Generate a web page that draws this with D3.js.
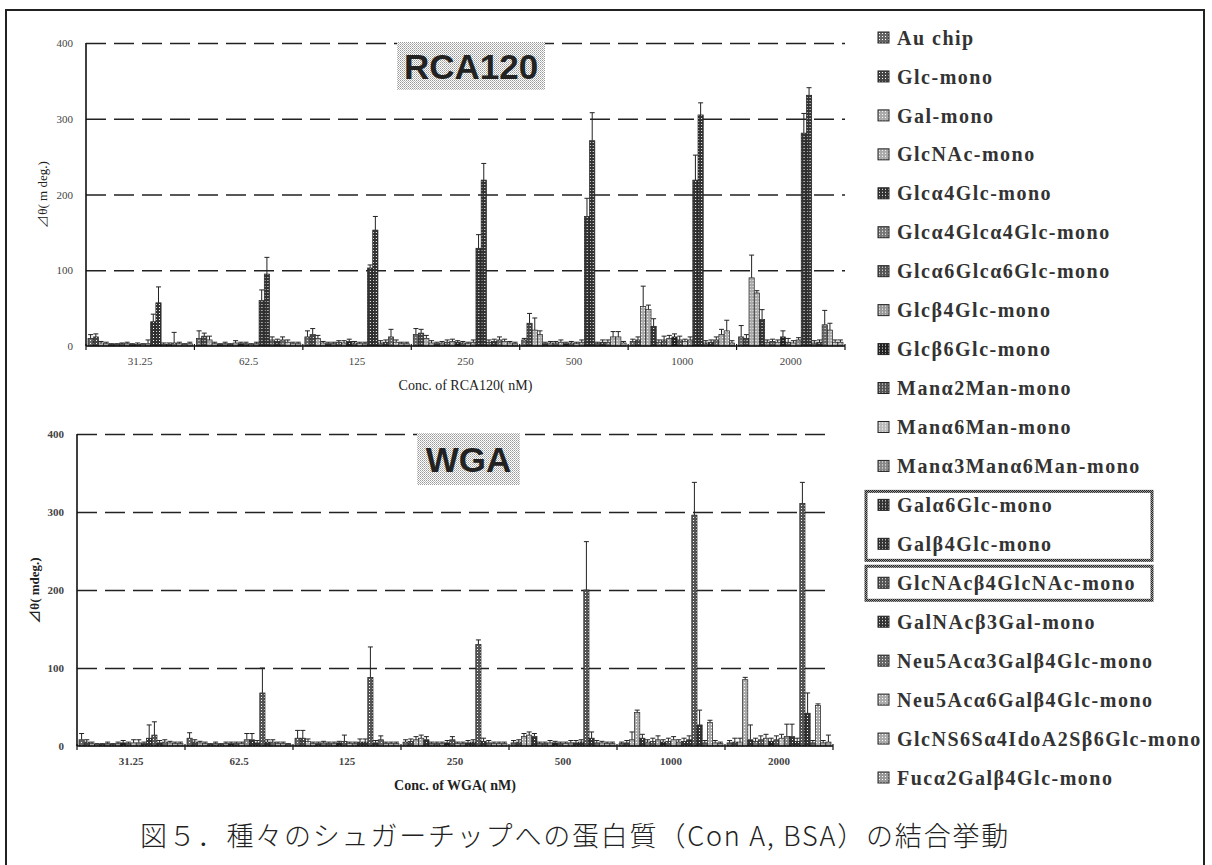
<!DOCTYPE html>
<html lang="ja">
<head>
<meta charset="utf-8">
<title>図5 RCA120 / WGA</title>
<script src="https://cdnjs.cloudflare.com/ajax/libs/d3/7.8.5/d3.min.js"></script>
<style>
body { margin: 0; background: #fff; }
.tick-lab { font-family: "Liberation Serif", "DejaVu Serif", serif; font-size: 11px; fill: #444; }
.axis-title { font-family: "Liberation Serif", "DejaVu Serif", serif; font-size: 14px; fill: #222; }
.legend text { font-family: "Liberation Serif", "DejaVu Serif", serif; font-size: 20px; font-weight: bold; fill: #333; letter-spacing: 1.5px; }
.panel-title { font-family: "Liberation Sans", Arial, sans-serif; font-weight: bold; font-size: 35px; fill: #222; }
.caption { font-family: "Noto Sans CJK JP", sans-serif; font-size: 27px; font-weight: 300; fill: #222; letter-spacing: 1.8px; }
</style>
</head>
<body>
<svg id="fig" width="1212" height="865"></svg>
<script>
// sugar chips (one bar per chip in every concentration group)
var sugars = ["Au chip", "Glc-mono", "Gal-mono", "GlcNAc-mono", "Glcα4Glc-mono",
  "Glcα4Glcα4Glc-mono", "Glcα6Glcα6Glc-mono", "Glcβ4Glc-mono", "Glcβ6Glc-mono",
  "Manα2Man-mono", "Manα6Man-mono", "Manα3Manα6Man-mono", "Galα6Glc-mono",
  "Galβ4Glc-mono", "GlcNAcβ4GlcNAc-mono", "GalNAcβ3Gal-mono", "Neu5Acα3Galβ4Glc-mono",
  "Neu5Acα6Galβ4Glc-mono", "GlcNS6Sα4IdoA2Sβ6Glc-mono", "Fucα2Galβ4Glc-mono"]

var concRCA = ["31.25", "62.5", "125", "250", "500", "1000", "2000"]
var concWGA = ["31.25", "62.5", "125", "250", "500", "1000", "2000"]
var yTicks = [0, 100, 200, 300, 400]

// RCA120: mean and SD per concentration (rows) and chip (columns)
var rcaMean = [
  [10, 12, 4, 3, 2, 2, 3, 3, 2, 2, 2, 3, 32, 57, 2, 2, 4, 3, 2, 3],
  [10, 13, 8, 3, 2, 3, 2, 4, 3, 3, 2, 3, 60, 95, 8, 6, 8, 5, 3, 3],
  [12, 15, 10, 4, 3, 3, 5, 4, 6, 4, 3, 3, 103, 153, 4, 5, 12, 5, 3, 3],
  [15, 17, 10, 4, 3, 4, 5, 6, 5, 4, 3, 5, 129, 219, 5, 6, 8, 6, 4, 3],
  [8, 30, 21, 15, 3, 4, 4, 5, 3, 4, 3, 5, 171, 271, 3, 5, 5, 12, 12, 4],
  [6, 8, 52, 48, 26, 5, 8, 10, 12, 8, 6, 8, 219, 305, 4, 5, 8, 15, 20, 4],
  [12, 10, 90, 70, 35, 5, 6, 5, 12, 5, 4, 8, 281, 331, 4, 5, 28, 21, 5, 5]
]
var rcaSd = [
  [5, 4, 2, 2, 1, 1, 1, 2, 1, 2, 1, 5, 10, 21, 2, 2, 14, 2, 1, 2],
  [10, 4, 5, 2, 1, 2, 1, 3, 2, 2, 1, 2, 14, 22, 4, 3, 4, 3, 2, 2],
  [8, 8, 4, 2, 2, 2, 2, 3, 3, 2, 2, 2, 4, 18, 3, 3, 10, 3, 2, 2],
  [8, 5, 4, 3, 2, 2, 3, 3, 2, 2, 2, 3, 18, 22, 3, 3, 4, 3, 2, 2],
  [2, 13, 16, 5, 2, 2, 2, 3, 2, 2, 2, 3, 24, 37, 2, 3, 3, 7, 7, 2],
  [3, 4, 27, 6, 10, 3, 5, 4, 4, 5, 3, 4, 33, 16, 3, 3, 4, 7, 14, 3],
  [15, 5, 30, 3, 13, 3, 3, 3, 8, 5, 3, 3, 26, 10, 3, 3, 19, 9, 3, 3]
]

// WGA
var wgaMean = [
  [8, 5, 3, 2, 2, 3, 2, 3, 4, 3, 4, 4, 3, 10, 14, 4, 5, 4, 3, 3],
  [10, 5, 4, 3, 2, 3, 2, 3, 3, 3, 3, 8, 8, 4, 68, 5, 5, 3, 3, 2],
  [10, 10, 6, 3, 3, 4, 3, 3, 4, 6, 3, 3, 5, 5, 88, 4, 8, 3, 3, 3],
  [5, 6, 8, 10, 8, 3, 3, 3, 4, 8, 3, 3, 4, 5, 130, 6, 4, 3, 3, 3],
  [4, 5, 12, 14, 12, 3, 3, 4, 4, 3, 3, 4, 4, 5, 200, 10, 4, 4, 3, 3],
  [3, 4, 8, 43, 10, 5, 6, 8, 5, 6, 8, 5, 6, 8, 296, 27, 4, 30, 4, 3],
  [4, 5, 5, 85, 8, 6, 8, 10, 6, 8, 10, 12, 12, 6, 311, 42, 4, 52, 4, 5]
]
var wgaSd = [
  [8, 3, 2, 1, 1, 2, 1, 2, 3, 2, 4, 4, 2, 17, 17, 3, 3, 2, 2, 2],
  [7, 3, 2, 2, 1, 2, 1, 2, 2, 2, 2, 8, 8, 3, 32, 3, 3, 2, 2, 1],
  [10, 10, 3, 2, 2, 2, 2, 2, 2, 8, 2, 2, 4, 4, 39, 3, 5, 2, 2, 2],
  [3, 3, 4, 4, 4, 2, 2, 2, 3, 4, 2, 2, 3, 3, 6, 4, 3, 2, 2, 2],
  [3, 3, 4, 4, 4, 2, 2, 3, 2, 2, 2, 3, 3, 3, 62, 8, 3, 2, 2, 2],
  [2, 3, 10, 3, 5, 3, 4, 5, 3, 4, 4, 3, 4, 5, 42, 19, 3, 3, 3, 2],
  [3, 5, 5, 3, 19, 4, 5, 5, 4, 5, 5, 16, 16, 4, 27, 26, 3, 2, 3, 9]
]

// grey tone behind the dot screen of each chip
var shade = ["#666", "#444", "#aaa", "#aaa", "#333", "#777", "#555", "#999", "#222", "#555",
  "#bbb", "#888", "#333", "#333", "#555", "#333", "#666", "#aaa", "#aaa", "#999"]

var svg = d3.select("#fig")
var defs = svg.append("defs")

// halftone-like fill for each chip
shade.forEach(function(c, i) {
  var p = defs.append("pattern")
    .attr("id", "pat" + i)
    .attr("patternUnits", "userSpaceOnUse")
    .attr("width", 3).attr("height", 3)
  p.append("rect").attr("width", 3).attr("height", 3).attr("fill", c)
  p.append("rect").attr("x", 1).attr("y", 1).attr("width", 1).attr("height", 1).attr("fill", "#fff")
})

var boxPat = defs.append("pattern")
  .attr("id", "boxpat").attr("patternUnits", "userSpaceOnUse")
  .attr("width", 2).attr("height", 2)
boxPat.append("rect").attr("width", 2).attr("height", 2).attr("fill", "#fff")
boxPat.append("rect").attr("width", 1).attr("height", 1).attr("fill", "#999")
boxPat.append("rect").attr("x", 1).attr("y", 1).attr("width", 1).attr("height", 1).attr("fill", "#bbb")

var edgePat = defs.append("pattern")
  .attr("id", "edgepat").attr("patternUnits", "userSpaceOnUse")
  .attr("width", 2).attr("height", 2)
edgePat.append("rect").attr("width", 2).attr("height", 2).attr("fill", "#999")
edgePat.append("rect").attr("width", 1).attr("height", 1).attr("fill", "#222")
edgePat.append("rect").attr("x", 1).attr("y", 1).attr("width", 1).attr("height", 1).attr("fill", "#222")

// outer frame (scanned page, bottom edge missing)
svg.append("path")
  .attr("d", "M6,865V10H1204V865")
  .attr("fill", "none").attr("stroke", "#222").attr("stroke-width", 2)

function drawPanel(o) {
  var g = svg.append("g")

  var x0 = d3.scaleBand().domain(o.conc).range([o.left, o.right])
  var x1 = d3.scaleBand().domain(d3.range(sugars.length)).range([2, x0.bandwidth() - 2])
  var y = d3.scaleLinear().domain([0, 400]).range([o.bottom, o.top])

  // dashed grid
  g.append("g")
    .attr("transform", "translate(" + o.left + ",0)")
    .call(d3.axisLeft(y).tickValues(yTicks.slice(1)).tickSize(-(o.right - o.left)).tickFormat(""))
    .call(function(s) { s.select(".domain").remove() })
    .selectAll("line")
    .attr("stroke", "#222").attr("stroke-width", 1.6).attr("stroke-dasharray", "20,8")

  // y labels
  g.append("g")
    .attr("transform", "translate(" + o.left + ",0)")
    .call(d3.axisLeft(y).tickValues(yTicks).tickSize(0).tickPadding(13))
    .call(function(s) { s.select(".domain").remove() })
    .selectAll("text")
    .attr("class", "tick-lab")
    .style("font-weight", o.bold ? "bold" : null)

  // bars
  var groups = g.selectAll("g.conc")
    .data(o.mean)
    .enter().append("g")
    .attr("class", "conc")
    .attr("transform", function(d, k) { return "translate(" + x0(o.conc[k]) + ",0)" })

  groups.each(function(row, k) {
    var gg = d3.select(this)
    var sd = o.sd[k]
    gg.selectAll("line.err")
      .data(row)
      .enter().append("path")
      .attr("class", "err")
      .attr("d", function(v, i) {
        var cx = x1(i) + x1.bandwidth() / 2
        var yt = y(v + sd[i])
        return "M" + cx + "," + y(v) + "V" + yt + "M" + (cx - 2.5) + "," + yt + "H" + (cx + 2.5)
      })
      .attr("fill", "none").attr("stroke", "#222").attr("stroke-width", 1)
    gg.selectAll("rect")
      .data(row)
      .enter().append("rect")
      .attr("x", function(v, i) { return x1(i) })
      .attr("width", x1.bandwidth())
      .attr("y", function(v) { return y(v) })
      .attr("height", function(v) { return y(0) - y(v) })
      .attr("fill", function(v, i) { return "url(#pat" + i + ")" })
      .attr("stroke", "#222").attr("stroke-width", 0.7)
  })

  // axes lines
  g.append("line")
    .attr("x1", o.left).attr("x2", o.left).attr("y1", y(400)).attr("y2", y(0))
    .attr("stroke", "#111").attr("stroke-width", 1.6)
  g.append("line")
    .attr("x1", o.left).attr("x2", o.right).attr("y1", y(0)).attr("y2", y(0))
    .attr("stroke", "#111").attr("stroke-width", 1.6)
  g.selectAll("line.sep")
    .data(d3.range(o.conc.length + 1))
    .enter().append("line")
    .attr("class", "sep")
    .attr("x1", function(k) { return o.left + k * x0.step() })
    .attr("x2", function(k) { return o.left + k * x0.step() })
    .attr("y1", y(0) - 2).attr("y2", y(0) + 4)
    .attr("stroke", "#111").attr("stroke-width", 1.2)

  // concentration labels
  g.append("g")
    .attr("transform", "translate(0," + y(0) + ")")
    .call(d3.axisBottom(x0).tickSize(0).tickPadding(11))
    .call(function(s) { s.select(".domain").remove() })
    .selectAll("text")
    .attr("class", "tick-lab")
    .style("font-weight", o.bold ? "bold" : null)

  g.append("text")
    .attr("class", "axis-title")
    .attr("x", (o.left + o.right) / 2).attr("y", o.bottom + 44)
    .attr("text-anchor", "middle")
    .style("font-weight", o.bold ? "bold" : null)
    .text(o.xTitle)

  g.append("text")
    .attr("class", "axis-title")
    .attr("transform", "translate(" + o.yTitleX + "," + (o.top + o.bottom) / 2 + ") rotate(-90)")
    .attr("text-anchor", "middle")
    .attr("dy", "0.35em")
    .style("font-size", "13px")
    .style("font-weight", o.bold ? "bold" : null)
    .text(o.yTitle)

  // protein name box
  g.append("rect")
    .attr("x", o.box[0]).attr("y", o.box[1]).attr("width", o.box[2]).attr("height", o.box[3])
    .attr("fill", "url(#boxpat)")
  g.append("text")
    .attr("class", "panel-title")
    .attr("x", o.box[0] + o.box[2] / 2).attr("y", o.box[1] + o.box[3] / 2)
    .attr("dy", "0.36em")
    .attr("text-anchor", "middle")
    .text(o.title)
}

drawPanel({
  conc: concRCA, mean: rcaMean, sd: rcaSd,
  left: 86, right: 845, top: 43, bottom: 346,
  title: "RCA120", box: [397, 42, 148, 48],
  xTitle: "Conc. of RCA120( nM)", yTitle: "⊿θ( m deg.)", yTitleX: 42, bold: false
})

drawPanel({
  conc: concWGA, mean: wgaMean, sd: wgaSd,
  left: 77, right: 833, top: 434, bottom: 746,
  title: "WGA", box: [417, 433, 103, 52],
  xTitle: "Conc. of WGA( nM)", yTitle: "⊿θ( mdeg.)", yTitleX: 34, bold: true
})

// legend
var ly = d3.scalePoint().domain(d3.range(sugars.length)).range([38, 778])

svg.append("rect")
  .attr("x", 866).attr("y", ly(12) - 14).attr("width", 286).attr("height", ly(13) - ly(12) + 30)
  .attr("fill", "none").attr("stroke", "url(#edgepat)").attr("stroke-width", 3)
svg.append("rect")
  .attr("x", 866).attr("y", ly(14) - 17).attr("width", 286).attr("height", 34)
  .attr("fill", "none").attr("stroke", "url(#edgepat)").attr("stroke-width", 3)

var leg = svg.append("g").attr("class", "legend")
  .selectAll("g")
  .data(sugars)
  .enter().append("g")
  .attr("transform", function(d, i) { return "translate(878," + ly(i) + ")" })

leg.append("rect")
  .attr("x", 0).attr("y", -6).attr("width", 11).attr("height", 11)
  .attr("fill", function(d, i) { return "url(#pat" + i + ")" })
  .attr("stroke", "#222").attr("stroke-width", 1)

leg.append("text")
  .attr("x", 19).attr("dy", "0.33em")
  .text(function(d) { return d })

svg.append("text")
  .attr("class", "caption")
  .attr("x", 140).attr("y", 846)
  .text("図５．種々のシュガーチップへの蛋白質（Con A, BSA）の結合挙動")
</script>
</body>
</html>
